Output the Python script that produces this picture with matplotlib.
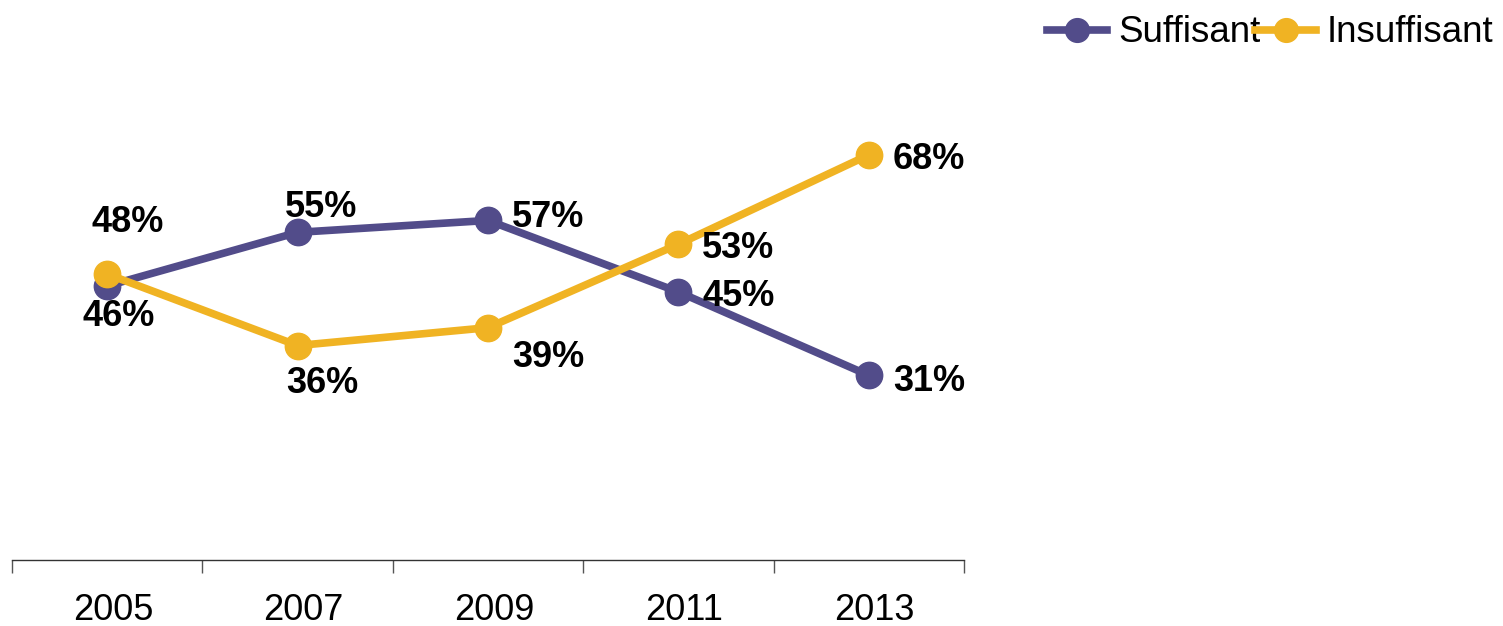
import matplotlib
matplotlib.use("Agg")
import matplotlib.pyplot as plt
import matplotlib.transforms as mtransforms
import numpy as np

years = ["2005", "2007", "2009", "2011", "2013"]
suffisant = [46, 55, 57, 45, 31]
insuffisant = [48, 36, 39, 53, 68]

c_suff = "#524C8A"
c_insuff = "#F0B323"

plt.rcParams['font.family'] = ['Liberation Sans', 'DejaVu Sans']

fig = plt.figure(figsize=(15.03, 6.26), dpi=100)
ax = fig.add_axes([12/1503, 1 - 560/626, (964-12)/1503, 560/626])

x = np.arange(len(years))
ax.plot(x, suffisant, color=c_suff, lw=5.5, marker='o', ms=19, label="Suffisant", zorder=3)
ax.plot(x, insuffisant, color=c_insuff, lw=5.5, marker='o', ms=19, label="Insuffisant", zorder=4)

ax.set_xlim(-0.5, len(years) - 0.5)
ax.set_ylim(0, 94)

# label offsets in pixels (dx, dy), positive dy upward
suff_off = [(11, -31), (23, 25), (60, 3), (60, -5), (60, -6)]
ins_off = [(20, 52), (25, -38), (60, -30), (60, -4), (60, -5)]
for i in range(len(years)):
    ax.annotate(f"{suffisant[i]}%", (x[i], suffisant[i]), xytext=suff_off[i],
                textcoords='offset pixels', ha='center', va='center',
                fontsize=26, fontweight='bold', zorder=5)
    ax.annotate(f"{insuffisant[i]}%", (x[i], insuffisant[i]), xytext=ins_off[i],
                textcoords='offset pixels', ha='center', va='center',
                fontsize=26, fontweight='bold', zorder=5)

for s in ['top', 'right', 'left']:
    ax.spines[s].set_visible(False)
ax.spines['bottom'].set_linewidth(1.0)
ax.spines['bottom'].set_color('#333333')
ax.set_yticks([])

ax.set_xticks(np.arange(-0.5, len(years), 1.0))
ax.set_xticklabels([])
ax.tick_params(axis='x', which='major', length=9, width=1.0, color='#555555', direction='out')
ax.set_xticks(x, minor=True)
ax.set_xticklabels(years, minor=True, fontsize=26)
ax.tick_params(axis='x', which='minor', length=0, pad=24)
shift = mtransforms.ScaledTranslation(6/100, 0, fig.dpi_scale_trans)
for lab in ax.get_xticklabels(minor=True):
    lab.set_transform(lab.get_transform() + shift)

leg = fig.legend(loc='upper right', bbox_to_anchor=(1.004, 1.0), ncol=2, frameon=False,
                 prop={'size': 26.5}, handlelength=1.65, handletextpad=0.3, columnspacing=-0.15,
                 borderaxespad=0.02, markerscale=0.9)

fig.savefig("out.png", dpi=100)
